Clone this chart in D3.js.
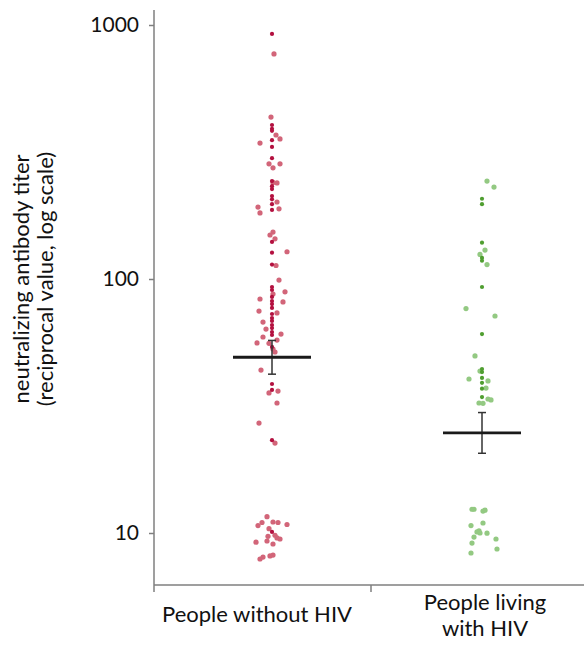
<!DOCTYPE html>
<html>
<head>
<meta charset="utf-8">
<style>
  body { margin: 0; background: #fff; }
  svg text { font-family: Lato, "Open Sans", sans-serif; fill: #111; }
</style>
</head>
<body>
<div class="plot"></div>

<script src="https://d3js.org/d3.v7.min.js"></script>
<script>
// groups on the x axis
const groups = ["People without HIV", "People living with HIV"];
const groupLines = [["People without HIV"], ["People living", "with HIV"]];

// titers (reciprocal values), with a small horizontal jitter (px)
const withoutHivTiters = [922, 769, 434, 404, 390, 383, 369, 356, 352, 343, 331, 299, 284, 284, 274,
  243, 240, 239, 232, 226, 212, 206, 201, 197, 192, 189, 187, 182, 153, 149, 144, 140, 127, 128,
  114, 113, 99, 93, 90.5, 89, 87.3, 85, 83.4, 81.9, 81.2, 79.7, 76.9, 74.8, 73.5, 72.8, 70.2, 68.4,
  67.7, 65.9, 64.1, 63.5, 61.8, 60.7, 60.2, 59.1, 57.5, 56, 55.8, 54, 53, 51.6, 43.8, 38.6, 36.6,
  35.6, 36.2, 32.5, 27.1, 23.2, 22.6,
  11.6, 11.0, 10.7, 11.05, 11.0, 10.8, 10.4, 10.1, 9.8, 9.7, 9.47, 9.56, 9.3, 9.2, 9.05, 8.19, 8.12, 8.04, 7.9];
const withoutHivJitter = [0, 2, -1, 0, 0, 0, 4, 8, 0, -12, 0, 0, -3, 8, 1,
  0, 1, 5, 0, 0, 0, 0, 5, 0, -14, 7, 0, -12, 1, -2, 3, 0, 0, 15,
  0, 4, 7, 0, 0, 13, 1, 0, -12, 0, 11, 0, 0, -13, 5, 0, 0, 0,
  -9, 0, 0, -6, 0, 9, 0, -9, 5, -15, -3, 0, 1, 3, -11, 0, 0,
  -3, 6, 5, -13, 0, 3,
  -5, -10, -14, 1, 6, 15, -3, 0, 3, -4, 8, 5, -5, -16, 1, 1, -2, -9, -12];

const withHivTiters = [243, 230, 207, 197, 139, 130, 125, 121, 118, 114, 93, 76.5, 71.5, 60.7, 49.8,
  44.2, 43.4, 43.0, 40.4, 40.8, 39.7, 39.0, 37.2, 37.0, 34.3, 33.7, 33.4, 32.5, 32.4,
  12.4, 12.4, 12.2, 12.3, 10.7, 10.95, 10.2, 10.1, 10.0, 9.98, 9.64, 9.47, 9.13, 8.65, 8.34];
const withHivJitter = [5, 12, 0, 0, 0, 3, -2, 0, 0, 5, 0, -16, 13, 0, -7,
  0, -2, 0, -13, 0, 6, 0, 4, 0, 0, 6, 9, -3, 1,
  -8, -10, 1, 3, -11, 1, -3, -5, -2, 5, -8, 14, -10, 15, -11];

// group means with error bars
const means = [49.2, 24.8];
const errLow = [42.2, 20.6];
const errHigh = [57.3, 29.8];

const yTicks = [10, 100, 1000];

const width = 584, height = 653;

const svg = d3.select(".plot").append("svg")
  .attr("width", width)
  .attr("height", height);

const y = d3.scaleLog().domain([10, 1000]).range([533, 25]);
const band = d3.scaleBand().domain(groups).range([143, 599]);
const xc = d3.scalePoint().domain(groups).range([272, 482]);

const axisX = 154, axisBottom = 585, axisTop = 10;
const axisColor = "#7f7f7f";

// y axis
svg.append("line")
  .attr("x1", axisX).attr("x2", axisX)
  .attr("y1", axisTop).attr("y2", axisBottom + 7)
  .attr("stroke", axisColor).attr("stroke-width", 1.5);

const yAxis = svg.append("g")
  .attr("transform", `translate(${axisX},0)`)
  .call(d3.axisLeft(y).tickValues(yTicks).tickFormat(d3.format("d")).tickSize(5).tickPadding(10));
yAxis.select(".domain").remove();
yAxis.selectAll(".tick line").attr("stroke", axisColor).attr("stroke-width", 1.5);
yAxis.selectAll(".tick text").style("font-size", "21px").attr("fill", "#111");

// x axis
svg.append("line")
  .attr("x1", axisX).attr("x2", width)
  .attr("y1", axisBottom).attr("y2", axisBottom)
  .attr("stroke", axisColor).attr("stroke-width", 1.5);
svg.append("line")
  .attr("x1", band.step() + band(groups[0])).attr("x2", band.step() + band(groups[0]))
  .attr("y1", axisBottom).attr("y2", axisBottom + 7)
  .attr("stroke", axisColor).attr("stroke-width", 1.5);

groups.forEach((g, i) => {
  const t = svg.append("text")
    .attr("x", band(g) + band.bandwidth() / 2)
    .attr("y", i === 0 ? 622 : 610)
    .attr("text-anchor", "middle")
    .style("font-size", "22px");
  groupLines[i].forEach((line, j) => {
    t.append("tspan")
      .attr("x", band(g) + band.bandwidth() / 2)
      .attr("dy", j === 0 ? 0 : 26)
      .text(line);
  });
});

// y axis title
const title = svg.append("text")
  .attr("transform", "translate(0,279) rotate(-90)")
  .attr("text-anchor", "middle")
  .style("font-size", "22px");
title.append("tspan").attr("x", 0).attr("y", 29).text("neutralizing antibody titer");
title.append("tspan").attr("x", 0).attr("y", 53).text("(reciprocal value, log scale)");

// dots
const colors = [
  { dark: "#b3103f", light: "#d26579" },
  { dark: "#4f9e30", light: "#93c982" }
];

function drawGroup(values, jitter, gi) {
  const g = svg.append("g");
  const pts = values.map((v, i) => ({ v, j: jitter[i] }));
  // light (offset) dots first, then the dark central column on top
  g.selectAll("circle.light")
    .data(pts.filter(d => d.j !== 0))
    .join("circle")
      .attr("class", "light")
      .attr("cx", d => xc(groups[gi]) + d.j)
      .attr("cy", d => y(d.v))
      .attr("r", 2.6)
      .attr("fill", colors[gi].light);
  g.selectAll("circle.dark")
    .data(pts.filter(d => d.j === 0))
    .join("circle")
      .attr("class", "dark")
      .attr("cx", d => xc(groups[gi]))
      .attr("cy", d => y(d.v))
      .attr("r", 2.1)
      .attr("fill", colors[gi].dark);
}
drawGroup(withoutHivTiters, withoutHivJitter, 0);
drawGroup(withHivTiters, withHivJitter, 1);

// means and error bars
groups.forEach((g, i) => {
  const cx = xc(g);
  svg.append("line")
    .attr("x1", cx).attr("x2", cx)
    .attr("y1", y(errHigh[i])).attr("y2", y(errLow[i]))
    .attr("stroke", "#333").attr("stroke-width", 1.5);
  [errHigh[i], errLow[i]].forEach(v => {
    svg.append("line")
      .attr("x1", cx - 4).attr("x2", cx + 4)
      .attr("y1", y(v)).attr("y2", y(v))
      .attr("stroke", "#333").attr("stroke-width", 1.5);
  });
  svg.append("line")
    .attr("x1", cx - 39).attr("x2", cx + 39)
    .attr("y1", y(means[i])).attr("y2", y(means[i]))
    .attr("stroke", "#1a1a1a").attr("stroke-width", 2.8);
});
</script>
</body>
</html>
